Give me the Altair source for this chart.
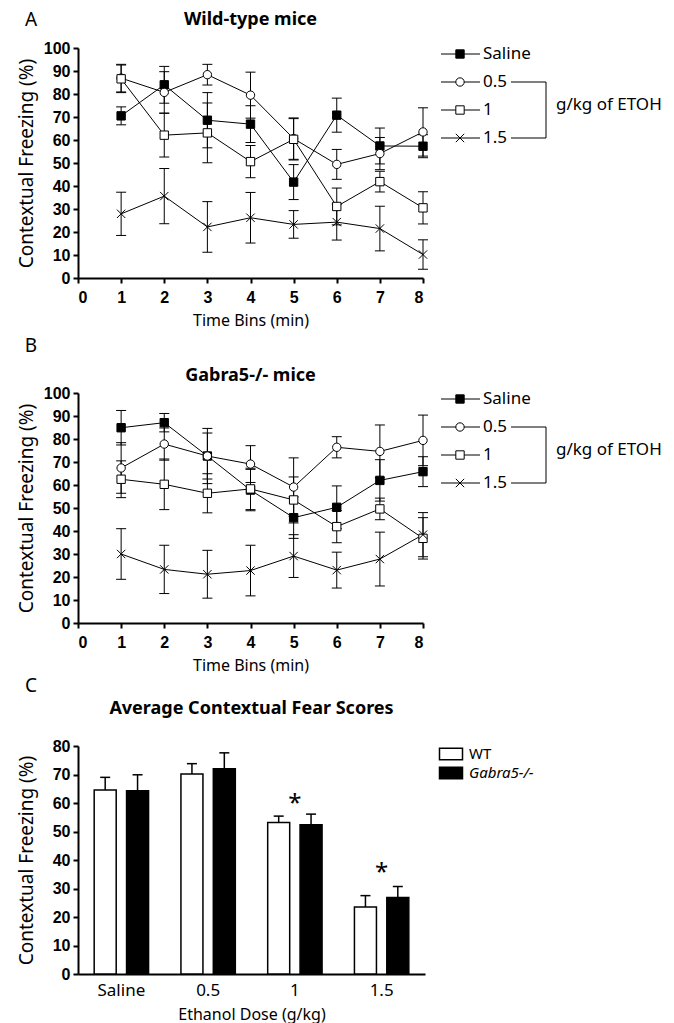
import altair as alt
import pandas as pd

# ---------------- data ----------------
time_bins = [1, 2, 3, 4, 5, 6, 7, 8]
series_names = ["Saline", "0.5", "1", "1.5"]

# Panel A: wild-type mice
wt_saline_mean = [70.5, 84.0, 68.6, 66.9, 41.7, 70.8, 57.4, 57.3]
wt_saline_sem = [3.9, 8.0, 12.0, 8.0, 7.6, 7.4, 7.8, 5.0]
wt_05_mean = [86.9, 80.7, 88.4, 79.5, 60.6, 49.4, 54.1, 63.5]
wt_05_sem = [6.0, 9.0, 4.5, 10.0, 9.0, 6.5, 7.0, 10.5]
wt_1_mean = [86.6, 62.1, 63.1, 50.6, 60.3, 31.1, 41.9, 30.5]
wt_1_sem = [6.0, 9.5, 13.0, 7.0, 9.0, 8.0, 4.5, 7.0]
wt_15_mean = [27.9, 35.6, 22.2, 26.2, 23.3, 24.3, 21.5, 10.2]
wt_15_sem = [9.4, 12.0, 11.0, 11.0, 6.0, 7.8, 9.7, 6.4]

# Panel B: Gabra5-/- mice
ko_saline_mean = [84.9, 87.1, 72.6, 57.8, 45.8, 50.3, 62.0, 65.8]
ko_saline_sem = [7.5, 4.0, 12.0, 9.0, 9.0, 9.3, 9.0, 6.5]
ko_05_mean = [67.4, 77.8, 72.6, 69.1, 59.1, 76.4, 74.6, 79.4]
ko_05_sem = [11.0, 7.0, 10.0, 8.0, 12.7, 4.6, 11.5, 11.0]
ko_1_mean = [62.5, 60.3, 56.4, 58.3, 53.5, 41.9, 49.6, 36.8]
ko_1_sem = [8.0, 11.0, 8.5, 9.0, 10.0, 7.0, 4.7, 9.0]
ko_15_mean = [30.0, 23.3, 21.2, 22.8, 29.1, 23.0, 27.8, 38.4]
ko_15_sem = [11.0, 10.5, 10.4, 11.0, 9.3, 7.8, 11.7, 9.6]

# Panel C: averages
doses = ["Saline", "0.5", "1", "1.5"]
genotypes = ["WT", "Gabra5-/-"]
genotype_slots = ["1", "2"]
wt_avg_mean = [64.6, 70.2, 53.2, 23.5]
wt_avg_sem = [4.4, 3.6, 2.2, 4.0]
ko_avg_mean = [64.3, 72.0, 52.4, 26.8]
ko_avg_sem = [5.6, 5.6, 3.7, 3.9]
star_doses = ["1", "1.5"]
star_level = [59.8, 35.3]

y_ticks_line = [0, 10, 20, 30, 40, 50, 60, 70, 80, 90, 100]
x_ticks_line = [0, 1, 2, 3, 4, 5, 6, 7, 8]
y_ticks_bar = [0, 10, 20, 30, 40, 50, 60, 70, 80]

TICK_FONT = "Liberation Sans"
TEXT_FONT = "Noto Sans"
W = 345
H = 230


def long_df(groups):
    rows = []
    for name, means, sems in groups:
        for t, m, s in zip(time_bins, means, sems):
            rows.append({"series": name, "time": t, "mean": m, "sem": s,
                         "lo": m - s, "hi": m + s})
    return pd.DataFrame(rows)


df_a = long_df([("Saline", wt_saline_mean, wt_saline_sem),
                ("0.5", wt_05_mean, wt_05_sem),
                ("1", wt_1_mean, wt_1_sem),
                ("1.5", wt_15_mean, wt_15_sem)])
df_b = long_df([("Saline", ko_saline_mean, ko_saline_sem),
                ("0.5", ko_05_mean, ko_05_sem),
                ("1", ko_1_mean, ko_1_sem),
                ("1.5", ko_15_mean, ko_15_sem)])

X_PATH = "M-1,-1L1,1M-1,1L1,-1"
shape_scale = alt.Scale(domain=series_names, range=["square", "circle", "square", X_PATH])
fill_scale = alt.Scale(domain=series_names, range=["black", "white", "white", "white"])

tick_label_style = dict(labelFont=TICK_FONT, labelFontWeight="bold", labelFontSize=16,
                        labelColor="black", labelOverlap=False)

line_x_axis = alt.Axis(values=x_ticks_line, title="Time Bins (min)", format="d",
                       titleY=42, titleBaseline="middle", labelPadding=6,
                       **tick_label_style)
line_y_axis = alt.Axis(values=y_ticks_line, title="Contextual Freezing (%)",
                       titleX=-52, titleY=H / 2, titleBaseline="middle",
                       titleFontSize=19, labelPadding=3, **tick_label_style)


def lx(field):
    return alt.X(field, scale=alt.Scale(domain=[0, 8], nice=False), axis=line_x_axis)


def lyq(field):
    return alt.Y(field, scale=alt.Scale(domain=[0, 100], nice=False), axis=line_y_axis)


def label_layer(text, x, y, size, weight="normal", align="center", style="normal"):
    return alt.Chart(pd.DataFrame({"label": [text]})).mark_text(
        font=TEXT_FONT, fontSize=size, fontWeight=weight, align=align,
        baseline="middle", color="black", fontStyle=style
    ).encode(x=alt.value(x), y=alt.value(y), text="label:N")


def line_panel(df, letter, title, letter_y, title_y):
    base = alt.Chart(df)
    lines = base.mark_line(color="black", strokeWidth=1).encode(
        x=lx("time:Q"), y=lyq("mean:Q"), detail="series:N")
    err = base.mark_rule(color="black", strokeWidth=1).encode(
        x=lx("time:Q"), y=lyq("lo:Q"), y2="hi:Q")
    cap_hi = base.mark_point(shape="stroke", size=100, color="black",
                             strokeWidth=1, opacity=1).encode(x=lx("time:Q"), y=lyq("hi:Q"))
    cap_lo = base.mark_point(shape="stroke", size=100, color="black",
                             strokeWidth=1, opacity=1).encode(x=lx("time:Q"), y=lyq("lo:Q"))
    pts = base.mark_point(filled=True, size=70, stroke="black", strokeWidth=1,
                          opacity=1).encode(
        x=lx("time:Q"), y=lyq("mean:Q"),
        shape=alt.Shape("series:N", scale=shape_scale, legend=None),
        fill=alt.Fill("series:N", scale=fill_scale, legend=None))
    main = alt.layer(lines, err, cap_lo, cap_hi, pts)

    # hand-made legend beside the plot
    leg_df = pd.DataFrame({"series": series_names})
    ly = alt.Y("series:N", scale=alt.Scale(type="point", domain=series_names,
                                           range=[6, 90], padding=0), axis=None)
    leg = alt.Chart(leg_df)
    leg_line = leg.mark_rule(color="black", strokeWidth=1).encode(
        x=alt.value(363), x2=alt.value(402), y=ly)
    leg_pts = leg.mark_point(filled=True, size=70, stroke="black", strokeWidth=1,
                             opacity=1).encode(
        x=alt.value(382), y=ly,
        shape=alt.Shape("series:N", scale=shape_scale, legend=None),
        fill=alt.Fill("series:N", scale=fill_scale, legend=None))
    leg_txt = leg.mark_text(font=TEXT_FONT, fontSize=17, align="left",
                            baseline="middle", color="black").encode(
        x=alt.value(405), y=ly, text="series:N")
    br_df = pd.DataFrame({"series": ["0.5", "1.5"]})
    br_h = alt.Chart(br_df).mark_rule(color="black", strokeWidth=1).encode(
        x=alt.value(433), x2=alt.value(468), y=ly)
    br_v = alt.Chart(pd.DataFrame({"a": ["0.5"], "b": ["1.5"]})).mark_rule(
        color="black", strokeWidth=1).encode(
        x=alt.value(468),
        y=alt.Y("a:N", scale=alt.Scale(type="point", domain=series_names,
                                       range=[6, 90], padding=0), axis=None),
        y2="b:N")
    br_txt = alt.Chart(pd.DataFrame({"series": ["1"], "unit": ["g/kg of ETOH"]})).mark_text(
        font=TEXT_FONT, fontSize=17, align="left", baseline="middle", dy=-5,
        color="black").encode(x=alt.value(478), y=ly, text="unit:N")
    legend = alt.layer(leg_line, leg_pts, leg_txt, br_h, br_v, br_txt)

    titles = alt.layer(label_layer(letter, -47, letter_y, 19),
                       label_layer(title, W / 2, title_y, 18, weight="bold"))
    return alt.layer(main, legend, titles).resolve_scale(y="independent").properties(
        width=W, height=H)


panel_a = line_panel(df_a, "A", "Wild-type mice", -28, -28)
panel_b = line_panel(df_b, "B", "Gabra5-/- mice", -47, -17)

# ---------------- panel C ----------------
rows = []
for d, m, s in zip(doses, wt_avg_mean, wt_avg_sem):
    rows.append({"dose": d, "genotype": "WT", "slot": "1", "mean": m, "hi": m + s})
for d, m, s in zip(doses, ko_avg_mean, ko_avg_sem):
    rows.append({"dose": d, "genotype": "Gabra5-/-", "slot": "2", "mean": m, "hi": m + s})
df_c = pd.DataFrame(rows)
# slot "1" = WT (white), slot "2" = Gabra5-/- (black)
slot_fill = alt.Scale(domain=genotype_slots, range=["white", "black"])
HC = 228
WC = 347

bar_x_axis = alt.Axis(title="Ethanol Dose (g/kg)", labelAngle=0, ticks=False,
                      tickSize=0, labelPadding=8, labelFont=TEXT_FONT,
                      labelFontWeight="normal", labelFontSize=17, labelColor="black",
                      titleY=40, titleBaseline="middle")
bar_y_axis = alt.Axis(values=y_ticks_bar, title="Contextual Freezing (%)",
                      titleX=-52, titleY=HC / 2, titleBaseline="middle",
                      titleFontSize=19, labelPadding=3, **tick_label_style)


def cx():
    return alt.X("dose:N", sort=doses, scale=alt.Scale(paddingInner=0, paddingOuter=0),
                 axis=bar_x_axis)


def cy(field):
    return alt.Y(field, scale=alt.Scale(domain=[0, 80], nice=False), axis=bar_y_axis)


xo = alt.XOffset("slot:N", sort=genotype_slots,
                 scale=alt.Scale(domain=genotype_slots, paddingInner=0.32,
                                 paddingOuter=0.5))

base_c = alt.Chart(df_c)
bars = base_c.mark_bar(stroke="black", strokeWidth=1.5).encode(
    x=cx(), xOffset=xo, y=cy("mean:Q"),
    fill=alt.Fill("slot:N", scale=slot_fill, legend=None))
err_c = base_c.mark_rule(color="black", strokeWidth=1.5).encode(
    x=cx(), xOffset=xo, y=cy("mean:Q"), y2="hi:Q")
cap_c = base_c.mark_point(shape="stroke", size=100, color="black", strokeWidth=1.5,
                          opacity=1).encode(x=cx(), xOffset=xo, y=cy("hi:Q"))
stars = alt.Chart(pd.DataFrame({"dose": star_doses, "lvl": star_level, "s": ["*", "*"]})).mark_text(
    font=TEXT_FONT, fontSize=24, baseline="middle", color="black").encode(
    x=cx(), y=cy("lvl:Q"), text="s:N")
main_c = alt.layer(bars, err_c, cap_c, stars)

gy = alt.Y("slot:N", scale=alt.Scale(type="point", domain=genotype_slots,
                                     range=[8, 27], padding=0), axis=None)
leg_c_df = pd.DataFrame({"slot": genotype_slots, "genotype": genotypes})
BOX = "M-1,-0.5H1V0.5H-1Z"
leg_c_box = alt.Chart(leg_c_df).mark_point(shape=BOX, size=529, filled=True,
                                           stroke="black", strokeWidth=1.5,
                                           opacity=1).encode(
    x=alt.value(373), y=gy,
    fill=alt.Fill("slot:N", scale=slot_fill, legend=None))
leg_c_wt = alt.Chart(pd.DataFrame({"slot": ["1"], "genotype": ["WT"]})).mark_text(
    font=TEXT_FONT, fontSize=15, align="left", baseline="middle", color="black").encode(
    x=alt.value(391), y=gy, text="genotype:N")
leg_c_ko = alt.Chart(pd.DataFrame({"slot": ["2"], "genotype": ["Gabra5-/-"]})).mark_text(
    font=TEXT_FONT, fontSize=15, align="left", baseline="middle", color="black",
    fontStyle="italic").encode(
    x=alt.value(391), y=gy, text="genotype:N")
legend_c = alt.layer(leg_c_box, leg_c_wt, leg_c_ko)

titles_c = alt.layer(label_layer("C", -47, -60, 19),
                     label_layer("Average Contextual Fear Scores", WC / 2, -37, 18,
                                 weight="bold"))
panel_c = alt.layer(main_c, legend_c, titles_c).resolve_scale(y="independent").properties(
    width=WC, height=HC)

top_rows = alt.vconcat(panel_a, panel_b, spacing=9)
chart = alt.vconcat(top_rows, panel_c, spacing=4).properties(
    padding={"left": 8, "top": 3, "right": 0, "bottom": 4}
).configure_view(stroke=None).configure_axis(
    grid=False,
    domainColor="black", domainWidth=2,
    tickColor="black", tickWidth=2, tickSize=5,
    labelColor="black", labelFont=TICK_FONT, labelFontWeight="bold", labelFontSize=16,
    labelPadding=2,
    titleColor="black", titleFont=TEXT_FONT, titleFontWeight="normal", titleFontSize=16,
)

chart.save("out.html", embed_options={"renderer": "svg", "actions": False})
